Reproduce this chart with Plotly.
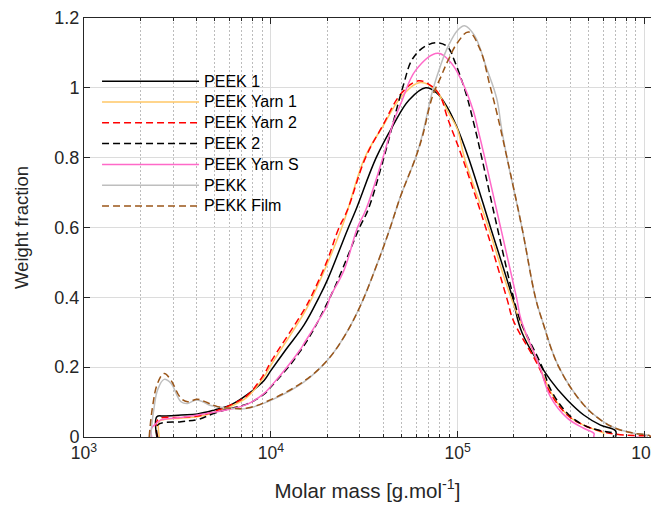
import numpy as np
import plotly.graph_objects as go

# ---------------- data (molar mass given as log10 M) ----------------
names = ["PEEK 1", "PEEK Yarn 1", "PEEK Yarn 2", "PEEK 2", "PEEK Yarn S", "PEKK", "PEKK Film"]

peek1_logM = [3.390, 3.390, 3.43, 3.52, 3.608, 3.697, 3.786, 3.875, 3.964, 4.000, 4.080, 4.178, 4.258,
              4.303, 4.410, 4.455, 4.564, 4.651, 4.740, 4.829, 4.889, 4.944, 4.992, 5.058, 5.176, 5.293,
              5.346, 5.497, 5.587, 5.675, 5.765, 5.845, 5.845]
peek1_w = [0, 0.058, 0.060, 0.063, 0.066, 0.077, 0.092, 0.122, 0.162, 0.190, 0.250, 0.321, 0.400,
           0.450, 0.593, 0.650, 0.800, 0.889, 0.965, 1.000, 0.985, 0.945, 0.893, 0.800, 0.600, 0.400,
           0.297, 0.163, 0.106, 0.063, 0.034, 0.018, 0]

yarn1_logM = [3.403, 3.403, 3.43, 3.52, 3.608, 3.697, 3.786, 3.875, 3.964, 4.000, 4.178, 4.222, 4.380,
              4.503, 4.600, 4.700, 4.800, 4.880, 4.950, 5.000, 5.036, 5.165, 5.285, 5.440, 5.497, 5.587,
              5.675, 5.765, 5.780, 5.780]
yarn1_w = [0, 0.045, 0.050, 0.054, 0.058, 0.070, 0.088, 0.115, 0.172, 0.205, 0.355, 0.400, 0.600,
           0.800, 0.890, 0.975, 1.015, 0.995, 0.930, 0.880, 0.800, 0.600, 0.400, 0.200, 0.130, 0.063,
           0.034, 0.015, 0.012, 0]

yarn2_logM = [3.394, 3.394, 3.519, 3.608, 3.697, 3.786, 3.875, 3.964, 4.000, 4.178, 4.214, 4.303, 4.360,
              4.410, 4.507, 4.596, 4.700, 4.790, 4.860, 4.908, 4.945, 5.025, 5.150, 5.266, 5.297, 5.435,
              5.497, 5.587, 5.675, 5.765, 5.850, 5.950, 6.030, 6.030]
yarn2_w = [0, 0.049, 0.056, 0.060, 0.073, 0.092, 0.120, 0.180, 0.215, 0.364, 0.400, 0.507, 0.593,
           0.650, 0.800, 0.889, 0.985, 1.020, 1.005, 0.975, 0.915, 0.800, 0.600, 0.392, 0.335, 0.200,
           0.125, 0.063, 0.034, 0.017, 0.008, 0.004, 0.002, 0]

peek2_logM = [3.394, 3.394, 3.519, 3.608, 3.697, 3.786, 3.875, 3.964, 4.000, 4.157, 4.317, 4.475, 4.520,
              4.605, 4.707, 4.760, 4.830, 4.898, 4.950, 4.981, 5.041, 5.088, 5.129, 5.212, 5.299, 5.334,
              5.453, 5.497, 5.587, 5.675, 5.765, 5.833, 5.833]
peek2_w = [0, 0.034, 0.044, 0.050, 0.068, 0.082, 0.095, 0.123, 0.143, 0.245, 0.400, 0.600, 0.650,
           0.800, 1.003, 1.084, 1.120, 1.129, 1.115, 1.080, 0.990, 0.895, 0.800, 0.600, 0.400, 0.335,
           0.200, 0.137, 0.068, 0.034, 0.018, 0.010, 0]

yarnS_logM = [3.362, 3.362, 3.389, 3.412, 3.519, 3.608, 3.786, 3.875, 3.964, 4.000, 4.157, 4.178, 4.303,
              4.317, 4.392, 4.464, 4.508, 4.600, 4.657, 4.700, 4.775, 4.893, 4.960, 5.020, 5.085, 5.112,
              5.145, 5.230, 5.315, 5.340, 5.440, 5.497, 5.587, 5.675, 5.730, 5.730, 5.968]
yarnS_w = [0, 0.025, 0.040, 0.049, 0.056, 0.063, 0.080, 0.094, 0.125, 0.145, 0.250, 0.268, 0.378,
           0.400, 0.478, 0.600, 0.650, 0.800, 0.903, 0.960, 1.050, 1.099, 1.075, 1.022, 0.932, 0.874,
           0.800, 0.600, 0.400, 0.335, 0.200, 0.115, 0.054, 0.025, 0.010, 0, 0]

pekk_logM = [3.358, 3.362, 3.376, 3.394, 3.429, 3.465, 3.519, 3.555, 3.599, 3.635, 3.679, 3.786, 3.875,
             4.000, 4.178, 4.303, 4.392, 4.477, 4.570, 4.633, 4.695, 4.775, 4.811, 4.865, 4.909, 4.950,
             5.000, 5.037, 5.090, 5.155, 5.209, 5.235, 5.264, 5.344, 5.416, 5.452, 5.542, 5.675, 5.765,
             5.845, 5.943, 6.014, 6.014]
pekk_w = [0, 0.030, 0.087, 0.135, 0.165, 0.154, 0.101, 0.096, 0.106, 0.101, 0.090, 0.082, 0.082,
          0.105, 0.158, 0.220, 0.287, 0.373, 0.497, 0.590, 0.690, 0.800, 0.865, 0.990, 1.065, 1.120,
          1.165, 1.178, 1.150, 1.056, 0.970, 0.884, 0.800, 0.600, 0.400, 0.335, 0.200, 0.092, 0.049,
          0.025, 0.011, 0.005, 0]

film_logM = [3.349, 3.367, 3.394, 3.429, 3.465, 3.519, 3.555, 3.608, 3.662, 3.715, 3.786, 3.875, 4.000,
             4.178, 4.303, 4.392, 4.477, 4.570, 4.633, 4.695, 4.775, 4.811, 4.865, 4.909, 4.950, 5.000,
             5.059, 5.120, 5.172, 5.209, 5.264, 5.344, 5.416, 5.452, 5.542, 5.675, 5.765, 5.845, 5.943,
             6.030, 6.030]
film_w = [0, 0.087, 0.154, 0.182, 0.163, 0.111, 0.101, 0.108, 0.098, 0.087, 0.082, 0.083, 0.107,
          0.160, 0.220, 0.287, 0.373, 0.497, 0.590, 0.690, 0.800, 0.860, 0.975, 1.030, 1.080, 1.130,
          1.160, 1.110, 1.008, 0.930, 0.800, 0.600, 0.400, 0.335, 0.200, 0.092, 0.049, 0.025, 0.011,
          0.003, 0]

x_major = [1e3, 1e4, 1e5, 1e6]
x_major_text = ["10<sup>3</sup>", "10<sup>4</sup>", "10<sup>5</sup>", "10<sup>6</sup>"]
y_ticks = [0, 0.2, 0.4, 0.6, 0.8, 1.0, 1.2]
y_ticktext = ["0", "0.2", "0.4", "0.6", "0.8", "1", "1.2"]

# ---------------- styles ----------------
logMs = [peek1_logM, yarn1_logM, yarn2_logM, peek2_logM, yarnS_logM, pekk_logM, film_logM]
ws = [peek1_w, yarn1_w, yarn2_w, peek2_w, yarnS_w, pekk_w, film_w]
colors = ["#000000", "#FFC766", "#FF0000", "#000000", "#FF69C8", "#BEBEBE", "#9A5518"]
dashes = ["solid", "solid", "7px,4px", "7px,4px", "solid", "solid", "7px,4px"]

TXT = "#262626"
FONT = "Liberation Sans, Arial, sans-serif"

fig = go.Figure()
for name, lm, w, c, d in zip(names, logMs, ws, colors, dashes):
    fig.add_trace(go.Scatter(
        x=10 ** np.array(lm), y=w, mode="lines",
        name='<span style="font-size:16px">' + name + '</span>',
        line=dict(color=c, dash=d, width=1.5, shape="spline", smoothing=1.1),
    ))

minor_vals = [m * 10 ** e for e in range(3, 6) for m in range(2, 10)]

# the page body has an 8px margin, so the figure is sized to fit the window from (8, 8)
fig.update_layout(
    width=651, height=500,
    margin=dict(l=76, r=8, t=10, b=71),
    paper_bgcolor="white", plot_bgcolor="white",
    font=dict(family=FONT, color=TXT, size=18),
    showlegend=True,
    legend=dict(
        x=0.023, y=0.886, xanchor="left", yanchor="top",
        bgcolor="rgba(0,0,0,0)", borderwidth=0,
        font=dict(size=13.7, color="#000000", family=FONT),
        itemwidth=97, tracegroupgap=0,
    ),
    xaxis=dict(
        type="log", range=[3, 6.035], automargin=False,
        tickvals=x_major, ticktext=x_major_text, ticklabeloverflow="allow",
        ticks="inside", ticklen=6, tickwidth=1, tickcolor=TXT,
        showline=True, linecolor=TXT, linewidth=1, mirror="ticks",
        showgrid=True, gridcolor="#dcdcdc", gridwidth=1, zeroline=False,
        tickfont=dict(size=17.5, color=TXT),
        minor=dict(tickvals=minor_vals, ticks="inside", ticklen=3, tickcolor=TXT,
                   showgrid=True, griddash="2px,2px", gridcolor="#bcbcbc", gridwidth=1),
        title=dict(text="Molar mass [g.mol<sup>-1</sup>]", font=dict(size=20.5, color=TXT), standoff=21),
    ),
    yaxis=dict(
        range=[0, 1.2], tickvals=y_ticks, ticktext=y_ticktext, automargin=False,
        ticklabeloverflow="allow",
        ticks="inside", ticklen=6, tickwidth=1, tickcolor=TXT,
        showline=True, linecolor=TXT, linewidth=1, mirror="ticks",
        showgrid=True, gridcolor="#dcdcdc", gridwidth=1, zeroline=False,
        tickfont=dict(size=18, color=TXT),
        title=dict(text="Weight fraction", font=dict(size=18.5, color=TXT), standoff=20),
    ),
)

fig.write_html("out.html")
